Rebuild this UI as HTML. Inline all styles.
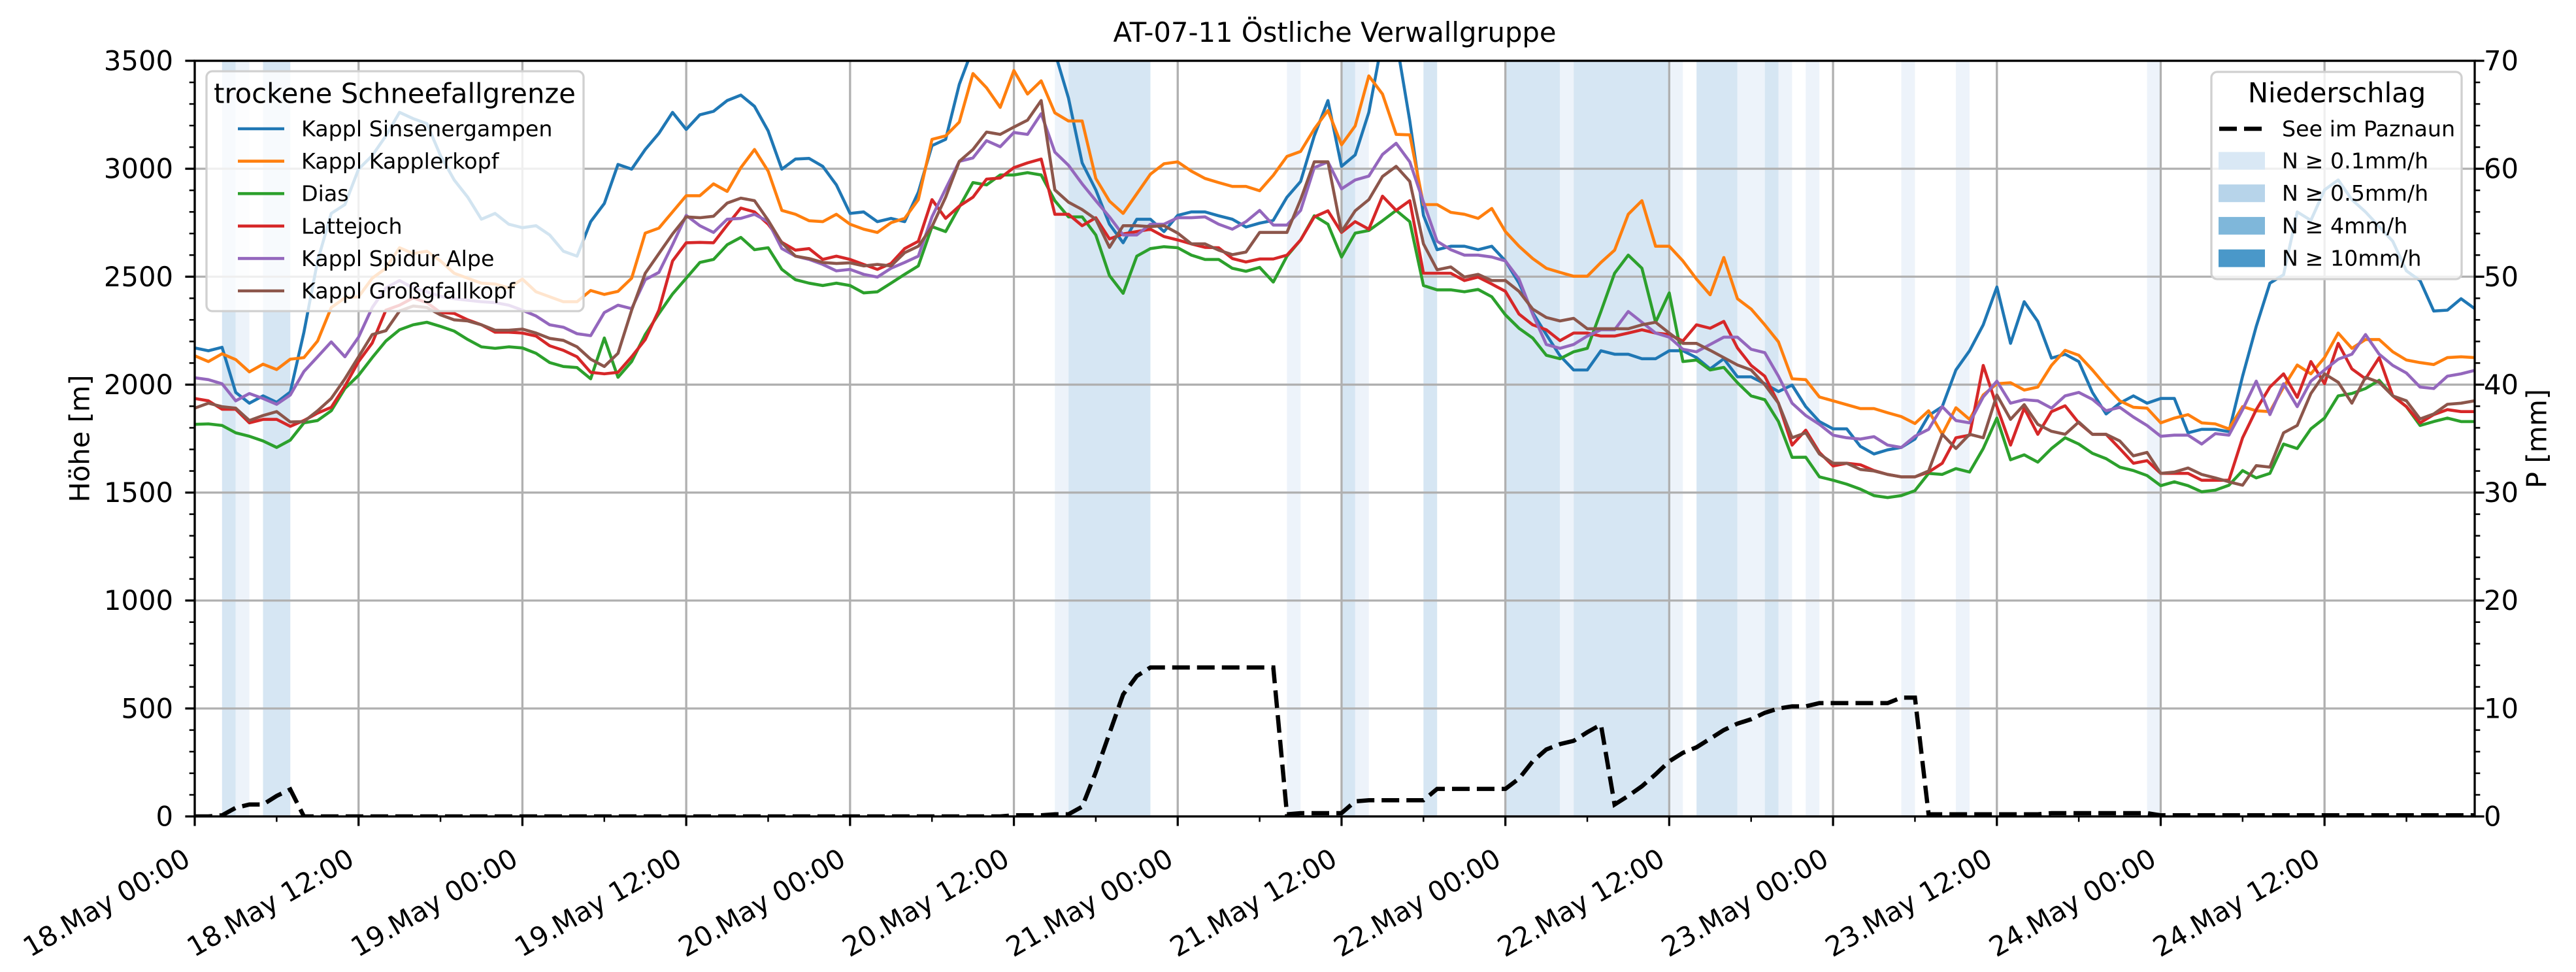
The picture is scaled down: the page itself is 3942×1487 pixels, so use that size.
<!DOCTYPE html>
<html><head><meta charset="utf-8"><title>AT-07-11 Östliche Verwallgruppe</title>
<style>
html,body{margin:0;padding:0;background:#fff;}
svg{display:block;font-family:"DejaVu Sans","Liberation Sans",sans-serif;}
</style></head>
<body>
<svg id="chart" xmlns="http://www.w3.org/2000/svg" width="3942" height="1487" viewBox="0 0 3942 1487">
<rect x="0" y="0" width="3942" height="1487" fill="#fff"/>
<defs><clipPath id="plotclip"><rect x="298" y="93" width="3489" height="1156"/></clipPath></defs>
<g id="bands" clip-path="url(#plotclip)"></g>
<g id="grid"></g>
<g id="series" clip-path="url(#plotclip)"></g>
<g id="precip" clip-path="url(#plotclip)"></g>
<g id="axes"></g>
<g id="legends"></g>
</svg>
<script>
const seriesNames = ["Kappl Sinsenergampen","Kappl Kapplerkopf","Dias","Lattejoch","Kappl Spidur Alpe","Kappl Großgfallkopf"];
const seriesColors = ["#1f77b4","#ff7f0e","#2ca02c","#d62728","#9467bd","#8c564b"];
const sinsenergampen = [2170,2157,2173,1964,1914,1948,1918,1966,2243,2573,2793,2834,2998,3061,3152,3261,3232,3209,3061,2948,2868,2766,2793,2743,2727,2736,2693,2618,2595,2755,2839,3020,2998,3089,3164,3261,3182,3250,3266,3316,3341,3289,3175,2998,3045,3048,3011,2925,2793,2800,2755,2770,2755,2891,3107,3136,3391,3560,3650,3700,
3650,3600,3560,3540,3327,3027,2902,2743,2657,2766,2766,2709,2784,2800,2800,2782,2766,2730,2748,2761,2868,2941,3152,3316,3011,3064,3261,3600,3600,3221,2784,2625,2641,2641,2625,2641,2573,2470,2334,2232,2134,2068,2068,2157,2141,2141,2120,2120,2157,2157,2125,2073,2120,2036,2036,2004,1968,1998,
1898,1829,1795,1795,1714,1679,1698,1709,1748,1857,1898,2068,2157,2277,2452,2191,2384,2293,2123,2141,2107,1964,1864,1914,1948,1914,1936,1936,1777,1793,1793,1782,2039,2270,2470,2509,2800,2761,2902,2948,2857,2800,2732,2664,2527,2482,2341,2345,2398,2352];
const kapplerkopf = [2134,2107,2143,2116,2059,2095,2070,2118,2125,2202,2357,2402,2407,2493,2539,2634,2607,2618,2573,2516,2493,2470,2466,2448,2489,2430,2407,2384,2384,2436,2418,2432,2493,2702,2725,2800,2875,2875,2930,2895,3005,3089,2989,2807,2789,2759,2755,2789,2743,2720,2705,2750,2770,2857,3136,3152,3216,3441,3375,3284,
3455,3346,3407,3259,3221,3221,2955,2850,2793,2884,2975,3023,3032,2989,2955,2936,2918,2918,2898,2970,3057,3080,3184,3270,3111,3198,3430,3346,3159,3157,2834,2834,2798,2789,2770,2816,2709,2641,2584,2539,2520,2502,2502,2566,2623,2789,2852,2641,2641,2573,2489,2416,2589,2398,2350,2277,2198,2027,
2023,1943,1925,1907,1889,1889,1870,1852,1820,1879,1770,1893,1839,1952,2004,2009,1975,1989,2089,2159,2136,2068,1993,1925,1895,1891,1823,1845,1861,1823,1818,1795,1898,1879,1875,1989,2091,2050,2125,2239,2168,2209,2209,2152,2114,2102,2093,2125,2129,2125];
const dias = [1816,1818,1811,1777,1761,1739,1709,1743,1823,1834,1879,1982,2043,2125,2202,2254,2277,2289,2270,2248,2209,2175,2168,2175,2170,2145,2102,2084,2079,2027,2216,2034,2107,2232,2329,2420,2493,2566,2580,2648,2682,2625,2634,2534,2486,2470,2459,2470,2459,2425,2430,2470,2511,2550,2732,2709,2823,2936,2925,2971,
2971,2982,2971,2852,2777,2777,2693,2505,2423,2595,2630,2639,2634,2600,2580,2580,2539,2525,2543,2475,2595,2670,2782,2743,2591,2702,2714,2759,2807,2755,2459,2439,2439,2430,2441,2407,2323,2261,2216,2136,2120,2152,2168,2339,2516,2600,2539,2289,2425,2107,2114,2068,2080,2009,1948,1930,1829,1663,
1664,1573,1557,1539,1516,1486,1477,1486,1509,1589,1584,1611,1595,1704,1845,1652,1675,1641,1704,1754,1725,1682,1657,1618,1602,1579,1532,1550,1532,1504,1511,1534,1602,1568,1589,1725,1704,1795,1845,1948,1959,1982,2020,1948,1898,1811,1829,1845,1829,1829];
const lattejoch = [1936,1925,1886,1886,1823,1839,1839,1807,1834,1868,1895,1993,2107,2193,2345,2368,2402,2380,2334,2330,2300,2277,2243,2243,2239,2225,2180,2159,2129,2057,2050,2057,2129,2209,2345,2573,2657,2659,2657,2739,2818,2800,2743,2659,2623,2630,2580,2595,2580,2557,2534,2561,2630,2664,2857,2770,2827,2868,2952,2957,
3005,3027,3045,2789,2789,2736,2773,2675,2698,2709,2720,2686,2670,2652,2636,2634,2584,2568,2582,2582,2600,2670,2777,2805,2705,2755,2720,2873,2807,2852,2516,2516,2516,2482,2498,2466,2432,2327,2277,2254,2204,2239,2239,2225,2225,2239,2254,2239,2232,2202,2277,2261,2293,2170,2089,2039,1914,1720,
1789,1686,1623,1636,1629,1602,1584,1573,1573,1595,1636,1754,1766,2089,1898,1720,1891,1770,1875,1902,1823,1770,1770,1704,1636,1648,1589,1589,1589,1557,1557,1557,1754,1884,1989,2050,1941,2107,2004,2191,2073,2027,2125,1948,1898,1823,1861,1884,1875,1875];
const spidurAlpe = [2032,2023,2004,1925,1959,1936,1909,1952,2061,2129,2198,2129,2220,2357,2448,2482,2448,2430,2409,2398,2391,2384,2380,2368,2345,2318,2277,2266,2236,2227,2334,2368,2352,2486,2520,2648,2784,2736,2705,2766,2770,2789,2755,2630,2595,2580,2557,2527,2534,2511,2498,2539,2566,2595,2777,2907,3034,3050,3130,3102,
3168,3159,3255,3077,3016,2930,2852,2777,2693,2693,2743,2743,2773,2773,2777,2743,2720,2755,2807,2739,2739,2807,3005,3032,2907,2948,2966,3066,3118,3032,2845,2664,2625,2600,2600,2591,2573,2489,2327,2186,2168,2186,2225,2254,2254,2339,2289,2239,2220,2164,2152,2186,2220,2220,2164,2148,2039,1914,
1857,1816,1766,1754,1748,1759,1720,1709,1761,1793,1898,1834,1823,1943,2016,1914,1930,1925,1891,1948,1964,1932,1879,1895,1850,1811,1761,1766,1766,1725,1773,1766,1884,2016,1861,2004,1898,2016,2068,2118,2141,2232,2141,2089,2054,1989,1982,2039,2050,2066];
const grossgfallkopf = [1891,1914,1898,1891,1834,1857,1875,1827,1829,1879,1936,2027,2129,2232,2250,2341,2364,2357,2323,2300,2295,2277,2252,2252,2257,2239,2214,2205,2175,2118,2084,2145,2345,2516,2607,2698,2777,2773,2780,2841,2864,2852,2761,2657,2595,2584,2566,2561,2564,2550,2557,2550,2611,2641,2732,2868,3034,3089,3170,3159,
3193,3225,3316,2902,2845,2811,2766,2636,2736,2736,2732,2736,2702,2652,2652,2623,2602,2614,2705,2705,2705,2857,3032,3032,2709,2805,2857,2964,3011,2941,2652,2532,2545,2498,2511,2482,2482,2432,2350,2311,2295,2307,2259,2259,2259,2259,2277,2289,2239,2191,2191,2159,2125,2091,2068,2000,1914,1754,
1777,1679,1636,1636,1607,1600,1584,1573,1573,1600,1770,1704,1770,1754,1952,1839,1907,1816,1784,1770,1827,1770,1770,1739,1670,1686,1589,1595,1614,1584,1568,1550,1534,1625,1618,1777,1811,1959,2050,2011,1914,2034,2011,1948,1925,1841,1864,1909,1914,1925];
const precipPaznaun = [0,0,0.1,0.8,1.1,1.1,1.9,2.5,
0,0,0,0,0,0,0,0,0,0,
0,0,0,0,0,0,0,0,0,0,
0,0,0,0,0,0,0,0,0,0,
0,0,0,0,0,0,0,0,0,0,
0,0,0,0,0,0,0,0,0,0,
0,0,
0.1,0.1,0.1,0.2,0.2,0.9,4.1,7.7,11.3,13.0,
13.8,13.8,13.8,13.8,13.8,13.8,13.8,13.8,13.8,13.8,
0.2,0.3,0.3,0.3,0.3,1.4,
1.5,1.5,1.5,1.5,1.5,
2.55,2.55,2.55,2.55,2.55,2.55,
3.5,5.1,6.2,6.7,7.0,7.8,8.5,
1.1,1.9,2.8,3.9,5.1,5.9,6.4,7.2,8.0,8.6,9.0,9.6,10.0,10.2,10.2,
10.5,10.5,10.5,10.5,10.5,10.5,11.0,11.0,
0.2,0.2,0.2,0.2,0.2,0.2,0.2,0.2,0.2,
0.3,0.3,0.3,0.3,0.3,0.3,0.3,0.3,
0.1,0.1,0.1,0.1,0.1,0.1,0.1,0.1,0.1,0.1,0.1,0.1,0.1,0.1,0.1,0.1,0.1,0.1,0.1,0.1,0.1,0.1,0.1,0.1];
const bandStart = [2,5,64,84,90,96,101,110,115, 3,63,80,85,100,108,113,116,118,125,129,143];
const bandEnd   = [3,7,70,85,91,100,108,113,116, 4,64,81,86,101,109,115,117,119,126,130,144];
const bandLevel = [1,1,1,1,1,1,1,1,1, 0,0,0,0,0,0,0,0,0,0,0,0];
const xTickLabels = ["18.May 00:00","18.May 12:00","19.May 00:00","19.May 12:00","20.May 00:00","20.May 12:00","21.May 00:00","21.May 12:00","22.May 00:00","22.May 12:00","23.May 00:00","23.May 12:00","24.May 00:00","24.May 12:00"];
const yTicks = [0,500,1000,1500,2000,2500,3000,3500];
const pTicks = [0,10,20,30,40,50,60,70];
const allSeries = [sinsenergampen,kapplerkopf,dias,lattejoch,spidurAlpe,grossgfallkopf];

const NS = "http://www.w3.org/2000/svg";
const L=298,R=3787,T=93,B=1249,XMAX=167,YMAX=3500,PMAX=70;
const xS = h => L + h*(R-L)/XMAX;
const yS = v => B - v*(B-T)/YMAX;
const pS = p => B - p*(B-T)/PMAX;
function mk(tag, attrs, parent){const e=document.createElementNS(NS,tag);for(const k in attrs)e.setAttribute(k,attrs[k]);parent.appendChild(e);return e;}
const gBands=document.getElementById('bands'),gGrid=document.getElementById('grid'),gSeries=document.getElementById('series'),gPrecip=document.getElementById('precip'),gAxes=document.getElementById('axes'),gLeg=document.getElementById('legends');
const FS=41.7, LFS=33.3;

bandStart.forEach((s,i)=>{
  const r=mk('rect',{x:xS(s),y:T,width:xS(bandEnd[i])-xS(s),height:B-T,fill:bandLevel[i]?'#d6e6f3':'#edf3fa'},gBands);
  
  
});
for(let i=0;i<xTickLabels.length;i++){
  const x=xS(i*12);
  const g=mk('line',{x1:x,x2:x,y1:T,y2:B,stroke:'#b0b0b0','stroke-width':3.3},gGrid);
  
  
}
yTicks.forEach(v=>{
  const g=mk('line',{x1:L,x2:R,y1:yS(v),y2:yS(v),stroke:'#b0b0b0','stroke-width':3.3},gGrid);
  
  
});
allSeries.forEach((arr,si)=>{
  const d=arr.map((v,i)=>(i?'L':'M')+xS(i).toFixed(1)+','+yS(v).toFixed(1)).join('');
  const p=mk('path',{d:d,fill:'none',stroke:seriesColors[si],'stroke-width':4.6,'stroke-linejoin':'round'},gSeries);
  
  
});
{
  const d=precipPaznaun.map((v,i)=>(i?'L':'M')+xS(i).toFixed(1)+','+pS(v).toFixed(1)).join('');
  const p=mk('path',{d:d,fill:'none',stroke:'#000','stroke-width':6.5,'stroke-dasharray':'27 11'},gPrecip);
  
  
}
{
  const s=mk('rect',{x:L,y:T,width:R-L,height:B-T,fill:'none',stroke:'#000','stroke-width':3.3},gAxes);
  
  
}
for(let v=0;v<=YMAX;v+=100){
  const major=v%500===0;
  const t=mk('line',{x1:L,x2:L-(major?14.6:8.3),y1:yS(v),y2:yS(v),stroke:'#000','stroke-width':major?3.3:2.5},gAxes);
  
  
}
yTicks.forEach(v=>{
  const t=mk('text',{x:265,y:yS(v),'font-size':FS,'text-anchor':'end','dominant-baseline':'central',fill:'#000'},gAxes);
  t.textContent=v;
  
  
});
for(let p=0;p<=PMAX;p+=2){
  const major=p%10===0;
  const t=mk('line',{x1:R,x2:R+(major?14.6:8.3),y1:pS(p),y2:pS(p),stroke:'#000','stroke-width':major?3.3:2.5},gAxes);
  
  
}
pTicks.forEach(p=>{
  const t=mk('text',{x:3801,y:pS(p),'font-size':FS,'text-anchor':'start','dominant-baseline':'central',fill:'#000'},gAxes);
  t.textContent=p;
  
  
});
for(let h=0;h<=XMAX;h+=6){
  const major=h%12===0;
  const t=mk('line',{x1:xS(h),x2:xS(h),y1:B,y2:B+(major?14.6:8.3),stroke:'#000','stroke-width':major?3.3:2.5},gAxes);
  
  
}
xTickLabels.forEach((lab,i)=>{
  const ax=xS(i*12)-4, ay=1322;
  const t=mk('text',{x:ax,y:ay,'font-size':FS,'text-anchor':'end',fill:'#000',transform:`rotate(-30 ${ax} ${ay})`},gAxes);
  t.textContent=lab;
  
  
});
{
  const t=mk('text',{x:(L+R)/2,y:64,'font-size':FS,'text-anchor':'middle',fill:'#000'},gAxes);
  t.textContent='AT-07-11 Östliche Verwallgruppe';
  
  
  const y1=mk('text',{x:0,y:0,'font-size':FS,'text-anchor':'middle','dominant-baseline':'central',fill:'#000',transform:`translate(122 ${(T+B)/2}) rotate(-90)`},gAxes);
  y1.textContent='Höhe [m]';
  
  
  const y2=mk('text',{x:0,y:0,'font-size':FS,'text-anchor':'middle','dominant-baseline':'central',fill:'#000',transform:`translate(3882 ${(T+B)/2}) rotate(-90)`},gAxes);
  y2.textContent='P [mm]';
  
  
}
{
  const g=mk('g',{},gLeg);
  
  
  mk('rect',{x:316,y:109,width:577,height:367,rx:9,fill:'rgba(255,255,255,0.8)',stroke:'#d0d0d0','stroke-width':3.3},g);
  const tt=mk('text',{x:604,y:143,'font-size':FS,'text-anchor':'middle','dominant-baseline':'central',fill:'#000'},g);
  tt.textContent='trockene Schneefallgrenze';
  
  
  seriesNames.forEach((n,i)=>{
    const y=197+i*49.6;
    const ln=mk('line',{x1:364,x2:435,y1:y,y2:y,stroke:seriesColors[i],'stroke-width':4.6},g);
    
    
    const tx=mk('text',{x:461,y:y,'font-size':LFS,'dominant-baseline':'central',fill:'#000'},g);
    tx.textContent=n;
    
    
  });
}
{
  const g=mk('g',{},gLeg);
  
  
  mk('rect',{x:3384,y:110,width:383,height:317,rx:9,fill:'rgba(255,255,255,0.8)',stroke:'#d0d0d0','stroke-width':3.3},g);
  const tt=mk('text',{x:3576,y:142,'font-size':FS,'text-anchor':'middle','dominant-baseline':'central',fill:'#000'},g);
  tt.textContent='Niederschlag';
  
  
  const dl=mk('line',{x1:3396,x2:3466,y1:197,y2:197,stroke:'#000','stroke-width':6.5,'stroke-dasharray':'27 11'},g);
  
  
  const dt=mk('text',{x:3492,y:197,'font-size':LFS,'dominant-baseline':'central',fill:'#000'},g);
  dt.textContent='See im Paznaun';
  
  
  const pc=['#d9e8f5','#b7d4ea','#7fb7da','#4a98c9'];
  const pl=['N ≥ 0.1mm/h','N ≥ 0.5mm/h','N ≥ 4mm/h','N ≥ 10mm/h'];
  pl.forEach((n,i)=>{
    const y=246+i*49.7;
    const r=mk('rect',{x:3395,y:y-13.5,width:71,height:27,fill:pc[i]},g);
    
    
    const tx=mk('text',{x:3492,y:y,'font-size':LFS,'dominant-baseline':'central',fill:'#000'},g);
    tx.textContent=n;
    
    
  });
}
</script>
</body></html>
